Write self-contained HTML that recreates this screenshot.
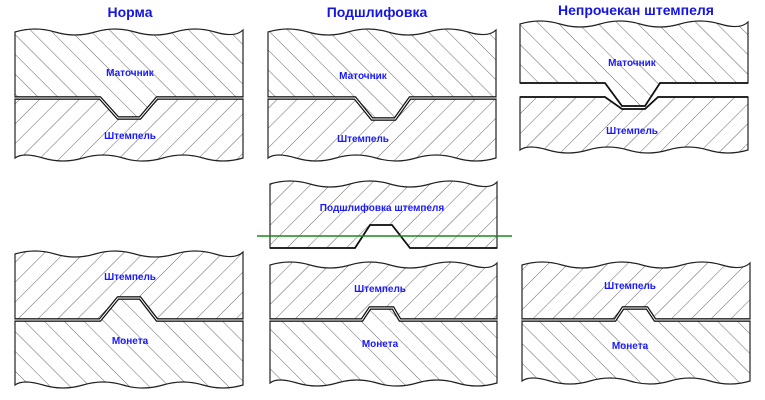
<!DOCTYPE html>
<html><head><meta charset="utf-8"><style>
html,body{margin:0;padding:0;background:#fff;width:765px;height:400px;overflow:hidden}
svg{display:block}
text{font-family:"Liberation Sans",sans-serif;font-weight:bold;fill:#1a1aff;text-anchor:middle}
.t{font-size:14px;fill:#1515e0}
.l{font-size:10px}
</style></head><body>
<svg width="765" height="400" viewBox="0 0 765 400" xmlns="http://www.w3.org/2000/svg">
<defs>
<pattern id="f" width="14" height="14" patternUnits="userSpaceOnUse" patternTransform="rotate(45)">
<line x1="0" y1="0" x2="0" y2="14" stroke="#666" stroke-width="1"/></pattern>
<pattern id="b" width="14" height="14" patternUnits="userSpaceOnUse" patternTransform="rotate(-45)">
<line x1="0" y1="0" x2="0" y2="14" stroke="#666" stroke-width="1"/></pattern>
</defs>
<g stroke="#222" stroke-width="1.2">
<path fill="url(#b)" d="M15,32 Q35,26 55,32 T95,32 T135,32 T175,32 T215,32 T243,30 L243,97 L157,97 L140,117 L118,117 L100,97 L15,97 Z"/>
<path fill="url(#f)" d="M15,99 L100,99 L118,119 L140,119 L157,99 L243,99 L243,158 Q223,164 203,158 T163,158 T123,158 T83,158 T43,158 T15,158 Z"/>
<path fill="url(#b)" d="M268,32 Q288,26 308,32 T348,32 T388,32 T428,32 T468,32 T496,30 L496,97 L410,97 L395,118 L372,118 L355,97 L268,97 Z"/>
<path fill="url(#f)" d="M268,99 L355,99 L372,120 L395,120 L410,99 L496,99 L496,158 Q476,164 456,158 T416,158 T376,158 T336,158 T296,158 T268,158 Z"/>
<path fill="url(#b)" d="M520,24 Q540,18 560,24 T600,24 T640,24 T680,24 T720,24 T748,22 L748,83 L660,83 L645,106 L622,106 L605,83 L520,83 Z"/>
<path fill="url(#f)" d="M520,97 L605,97 L622,109 L645,109 L658,97 L748,97 L748,150 Q728,156 708,150 T668,150 T628,150 T588,150 T548,150 T520,150 Z"/>
<path fill="url(#f)" d="M270,184 Q290,178 310,184 T350,184 T390,184 T430,184 T470,184 T497,182 L497,248 L410,248 L392,225 L370,225 L355,248 L270,248 Z"/>
<path fill="url(#f)" d="M15,254 Q35,248 55,254 T95,254 T135,254 T175,254 T215,254 T243,252 L243,319 L157,319 L140,297 L118,297 L100,319 L15,319 Z"/>
<path fill="url(#b)" d="M15,321 L100,321 L118,299 L140,299 L157,321 L243,321 L243,385 Q223,391 203,385 T163,385 T123,385 T83,385 T43,385 T15,385 Z"/>
<path fill="url(#f)" d="M270,265 Q290,259 310,265 T350,265 T390,265 T430,265 T470,265 T497,263 L497,319 L400,319 L393,307 L370,307 L362,319 L270,319 Z"/>
<path fill="url(#b)" d="M270,321 L362,321 L370,309 L393,309 L400,321 L497,321 L497,383 Q477,389 457,383 T417,383 T377,383 T337,383 T297,383 T270,383 Z"/>
<path fill="url(#f)" d="M522,265 Q542,259 562,265 T602,265 T642,265 T682,265 T722,265 T750,263 L750,319 L655,319 L647,307 L623,307 L615,319 L522,319 Z"/>
<path fill="url(#b)" d="M522,321 L615,321 L623,309 L647,309 L655,321 L750,321 L750,381 Q730,387 710,381 T670,381 T630,381 T590,381 T550,381 T522,381 Z"/>
</g>
<g fill="none" stroke="#111" stroke-width="3.5">
<path d="M15,98 L100,98 L118,118 L140,118 L157,98 L243,98"/>
<path d="M268,98 L355,98 L372,119 L395,119 L410,98 L496,98"/>
<path d="M15,320 L100,320 L118,298 L140,298 L157,320 L243,320"/>
<path d="M270,320 L362,320 L370,308 L393,308 L400,320 L497,320"/>
<path d="M522,320 L615,320 L623,308 L647,308 L655,320 L750,320"/>
</g>
<g fill="none" stroke="#fff" stroke-width="1">
<path d="M15,98 L100,98 L118,118 L140,118 L157,98 L243,98"/>
<path d="M268,98 L355,98 L372,119 L395,119 L410,98 L496,98"/>
<path d="M15,320 L100,320 L118,298 L140,298 L157,320 L243,320"/>
<path d="M270,320 L362,320 L370,308 L393,308 L400,320 L497,320"/>
<path d="M522,320 L615,320 L623,308 L647,308 L655,320 L750,320"/>
</g>
<g fill="none" stroke="#111" stroke-width="1.8">
<path d="M520,83 L605,83 L622,106 L645,106 L660,83 L748,83"/>
<path d="M520,97 L605,97 L622,109 L645,109 L658,97 L748,97"/>
<path d="M270,248 L355,248 L370,225 L392,225 L410,248 L497,248"/>
</g>
<line x1="257" y1="236" x2="512" y2="236" stroke="#1a8a1a" stroke-width="1.5"/>
<text class="t" x="130" y="17">Норма</text>
<text class="t" x="377" y="17">Подшлифовка</text>
<text class="t" x="636" y="15">Непрочекан штемпеля</text>
<text class="l" x="130" y="76">Маточник</text>
<text class="l" x="130" y="139">Штемпель</text>
<text class="l" x="363" y="79">Маточник</text>
<text class="l" x="363" y="142">Штемпель</text>
<text class="l" x="632" y="66">Маточник</text>
<text class="l" x="632" y="134">Штемпель</text>
<text class="l" x="382" y="211">Подшлифовка штемпеля</text>
<text class="l" x="130" y="280">Штемпель</text>
<text class="l" x="130" y="344">Монета</text>
<text class="l" x="380" y="292">Штемпель</text>
<text class="l" x="380" y="347">Монета</text>
<text class="l" x="630" y="289">Штемпель</text>
<text class="l" x="630" y="349">Монета</text>
</svg>
</body></html>
